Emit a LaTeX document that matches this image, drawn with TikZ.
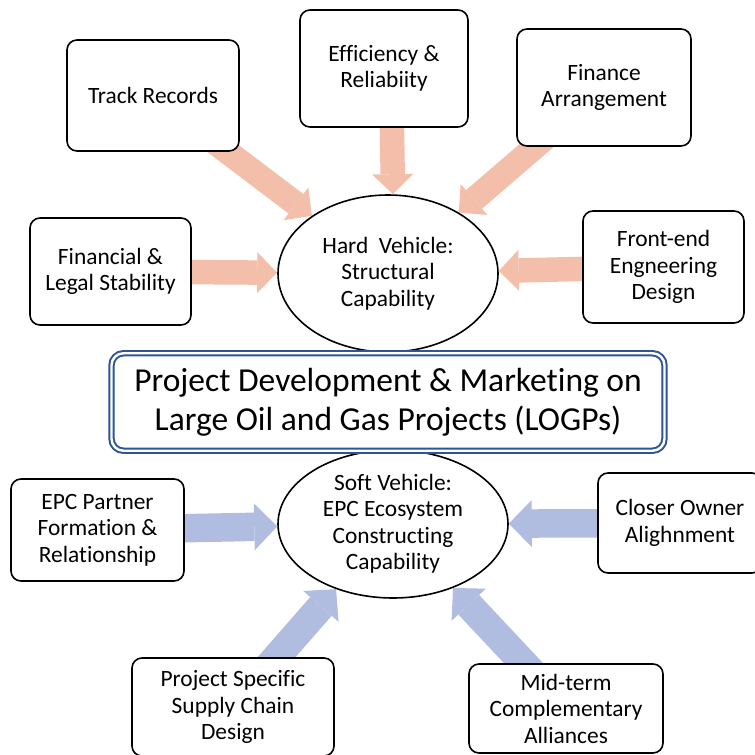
\documentclass[tikz,border=0pt]{standalone}
\usepackage{fontspec}
\setmainfont[Ligatures=NoCommon]{Carlito}
\usepackage{xcolor}
\usepackage{tikz}
\usetikzlibrary{shapes,arrows.meta,positioning,backgrounds}

\definecolor{hardpink}{RGB}{243,191,171}
\definecolor{softblue}{RGB}{177,189,224}
\definecolor{titleblue}{RGB}{47,85,151}

\begin{document}
\begin{tikzpicture}[
    x=1pt, y=-1pt,
    factor/.style={rectangle, rounded corners=10pt, draw, line width=1.6pt, fill=white, align=center, inner sep=0pt, font=\fontsize{23.4}{26.5}\selectfont},
    vehicle/.style={ellipse, draw, line width=1.6pt, fill=white, align=center, inner sep=0pt, font=\fontsize{23.4}{26.5}\selectfont},
    mainbox/.style={rectangle, rounded corners=12pt, draw=titleblue, line width=2pt, double=white, double distance=2.4pt, fill=white, align=center, inner sep=0pt, font=\fontsize{33.5}{39}\selectfont},
    hardarrow/.style={draw=hardpink, line width=24.5pt, -{Triangle[length=20pt, width=41pt, line width=0pt]}},
    softarrow/.style={draw=softblue, line width=28.5pt, -{Triangle[length=23pt, width=47pt, line width=0pt]}},
]
    \useasboundingbox (0,0) rectangle (755,755);

    % Hard vehicle
    \node[vehicle, minimum width=220, minimum height=157] (hard) at (388,273.5) {Hard~\ Vehicle:\\Structural\\Capability};
    \node[factor, minimum width=172, minimum height=111] (track) at (153,95.5) {Track Records};
    \node[factor, minimum width=168, minimum height=117] (effic) at (384,68.5) {Efficiency \&\\Reliabiity};
    \node[factor, minimum width=174, minimum height=117] (finance) at (604,87.5) {Finance\\Arrangement};
    \node[factor, minimum width=161, minimum height=107] (legal) at (110.5,271.5) {Financial \&\\Legal Stability};
    \node[factor, minimum width=161, minimum height=112] (feed) at (663.5,267) {Front-end\\Engneering\\Design};

    % Soft vehicle
    \node[vehicle, minimum width=230, minimum height=148] (soft) at (393,524) {Soft Vehicle:\\EPC Ecosystem\\Constructing\\Capability};
    \node[factor, minimum width=173, minimum height=102] (partner) at (97.5,530) {EPC Partner\\Formation \&\\Relationship};
    \node[factor, minimum width=164, minimum height=100] (owner) at (680,523) {Closer Owner\\Alighnment};
    \node[factor, minimum width=202, minimum height=98] (supply) at (233,707) {Project Specific\\Supply Chain\\Design};
    \node[factor, minimum width=194, minimum height=89] (alliance) at (566,708.5) {Mid-term\\Complementary\\Alliances};

    % Title
    \node[mainbox, minimum width=553, minimum height=97.5] (logp) at (388,402) {Project Development \& Marketing on\\Large Oil and Gas Projects (LOGPs)};

    \begin{pgfonlayer}{background}
        \draw[hardarrow] (track.center) -- (hard);
        \draw[hardarrow] ([xshift=7pt]effic.center) -- ([xshift=5pt]hard.north);
        \draw[hardarrow] (finance.center) -- (hard);
        \draw[hardarrow] (legal.center) -- (hard);
        \draw[hardarrow] (feed.center) -- (hard);

        \draw[softarrow] (partner.center) -- (soft);
        \draw[softarrow] (owner.center) -- (soft);
        \draw[softarrow] (supply.center) -- (soft);
        \draw[softarrow] (alliance.center) -- (soft);
    \end{pgfonlayer}

\end{tikzpicture}
\end{document}
